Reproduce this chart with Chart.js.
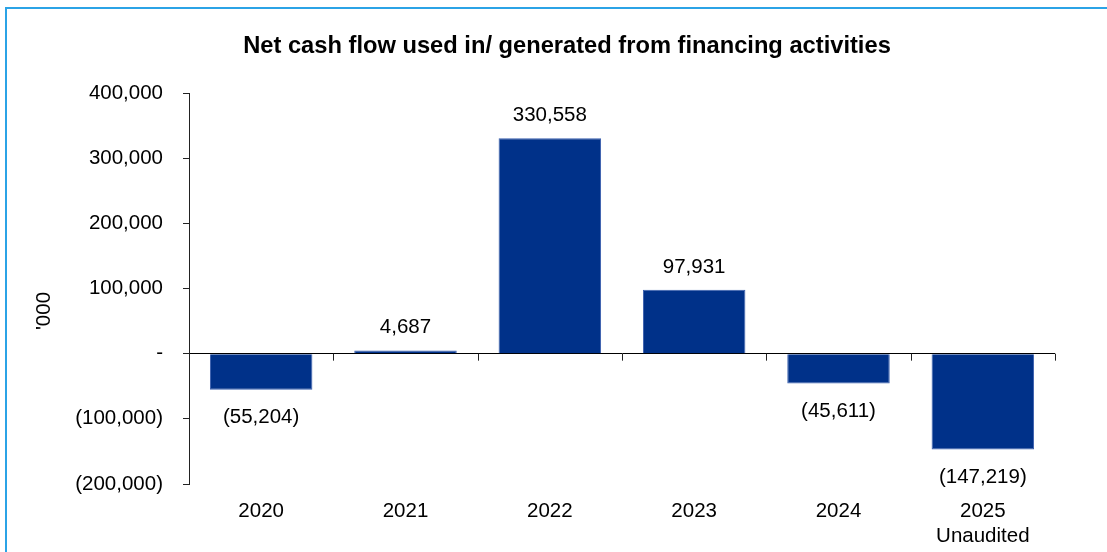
<!DOCTYPE html>
<html>
<head>
<meta charset="utf-8">
<title>Net cash flow used in/ generated from financing activities</title>
<script src="https://cdn.jsdelivr.net/npm/chart.js@4"></script>
<style>
  body { margin: 0; overflow: hidden; background: #fff; }
  #wrap { width: 1134px; height: 552px; }
</style>
</head>
<body>
<div id="wrap"><canvas id="cashChart"></canvas></div>
<script>
const years = ['2020', '2021', '2022', '2023', '2024', ['2025', 'Unaudited']];
const netCashFlow = [-55204, 4687, 330558, 97931, -45611, -147219];
const yTicks = [-200000, -100000, 0, 100000, 200000, 300000, 400000];
const chartTitle = 'Net cash flow used in/ generated from financing activities';
const yTitle = "'000";

const FONT = '"Liberation Sans", Arial, sans-serif';
const BAR_BLUE = '#003189';

// 12,345 / (12,345) / - for zero
function fmt(v) {
  if (v === 0) return '-';
  const s = String(Math.abs(v)).replace(/\B(?=(\d{3})+(?!\d))/g, ',');
  return v < 0 ? '(' + s + ')' : s;
}

Chart.defaults.color = '#000';
Chart.defaults.font.family = FONT;

// frame, title, axis title, category ticks and value labels
const decor = {
  id: 'decor',
  beforeDraw(chart) {
    const ctx = chart.ctx;
    ctx.save();
    ctx.fillStyle = '#fff';
    ctx.fillRect(0, 0, chart.width, chart.height);
    ctx.strokeStyle = '#2ba3e6';
    ctx.lineWidth = 2;
    ctx.strokeRect(6, 8, chart.width - 10, chart.height + 50);
    ctx.restore();
  },
  afterDatasetsDraw(chart) {
    const ctx = chart.ctx;
    const x = chart.scales.x;
    const y = chart.scales.y;
    const y0 = y.getPixelForValue(0);

    ctx.save();
    // little ticks between the categories, hanging off the zero line
    ctx.strokeStyle = '#222';
    ctx.lineWidth = 1;
    const w = (x.right - x.left) / years.length;
    ctx.beginPath();
    for (let i = 1; i <= years.length; i++) {
      const px = Math.round(x.left + i * w) + 0.5;
      ctx.moveTo(px, y0);
      ctx.lineTo(px, y0 + 7);
    }
    ctx.stroke();

    // values above / below each bar
    ctx.fillStyle = '#000';
    ctx.font = '20.5px ' + FONT;
    ctx.textAlign = 'center';
    ctx.textBaseline = 'middle';
    chart.getDatasetMeta(0).data.forEach((bar, i) => {
      const v = netCashFlow[i];
      const ty = v >= 0 ? bar.y - 23 : bar.y + 28;
      ctx.fillText(fmt(v), bar.x, ty);
    });

    // chart title
    ctx.font = 'bold 23.7px ' + FONT;
    ctx.fillText(chartTitle, 567, 46);

    // y axis title
    ctx.font = '20.5px ' + FONT;
    ctx.translate(44, 311);
    ctx.rotate(-Math.PI / 2);
    ctx.fillText(yTitle, 0, 0);
    ctx.restore();
  }
};

new Chart(document.getElementById('cashChart'), {
  type: 'bar',
  data: {
    labels: years,
    datasets: [{
      data: netCashFlow,
      backgroundColor: BAR_BLUE,
      borderColor: '#3a5fae',
      borderWidth: 1,
      barPercentage: 0.71,
      categoryPercentage: 1
    }]
  },
  options: {
    responsive: true,
    maintainAspectRatio: false,
    animation: false,
    layout: { padding: { left: 0, right: 79, top: 93, bottom: 0 } },
    plugins: {
      legend: { display: false },
      title: { display: false },
      tooltip: { enabled: false }
    },
    scales: {
      x: {
        grid: { display: false },
        border: { display: false },
        ticks: { font: { size: 20.5, lineHeight: 1.22 }, padding: 7, maxRotation: 0 },
        afterFit(scale) { scale.height = 68; }
      },
      y: {
        min: yTicks[0],
        max: yTicks[yTicks.length - 1],
        afterBuildTicks(scale) { scale.ticks = yTicks.map(v => ({ value: v })); },
        grid: {
          color: c => (c.tick && c.tick.value === 0 ? '#000' : 'transparent'),
          tickColor: '#222',
          tickLength: 6
        },
        border: { display: true, color: '#222' },
        ticks: { font: { size: 20.5 }, padding: 20, callback: v => fmt(v) },
        afterFit(scale) { scale.width = 189; }
      }
    }
  },
  plugins: [decor]
});
</script>
</body>
</html>
